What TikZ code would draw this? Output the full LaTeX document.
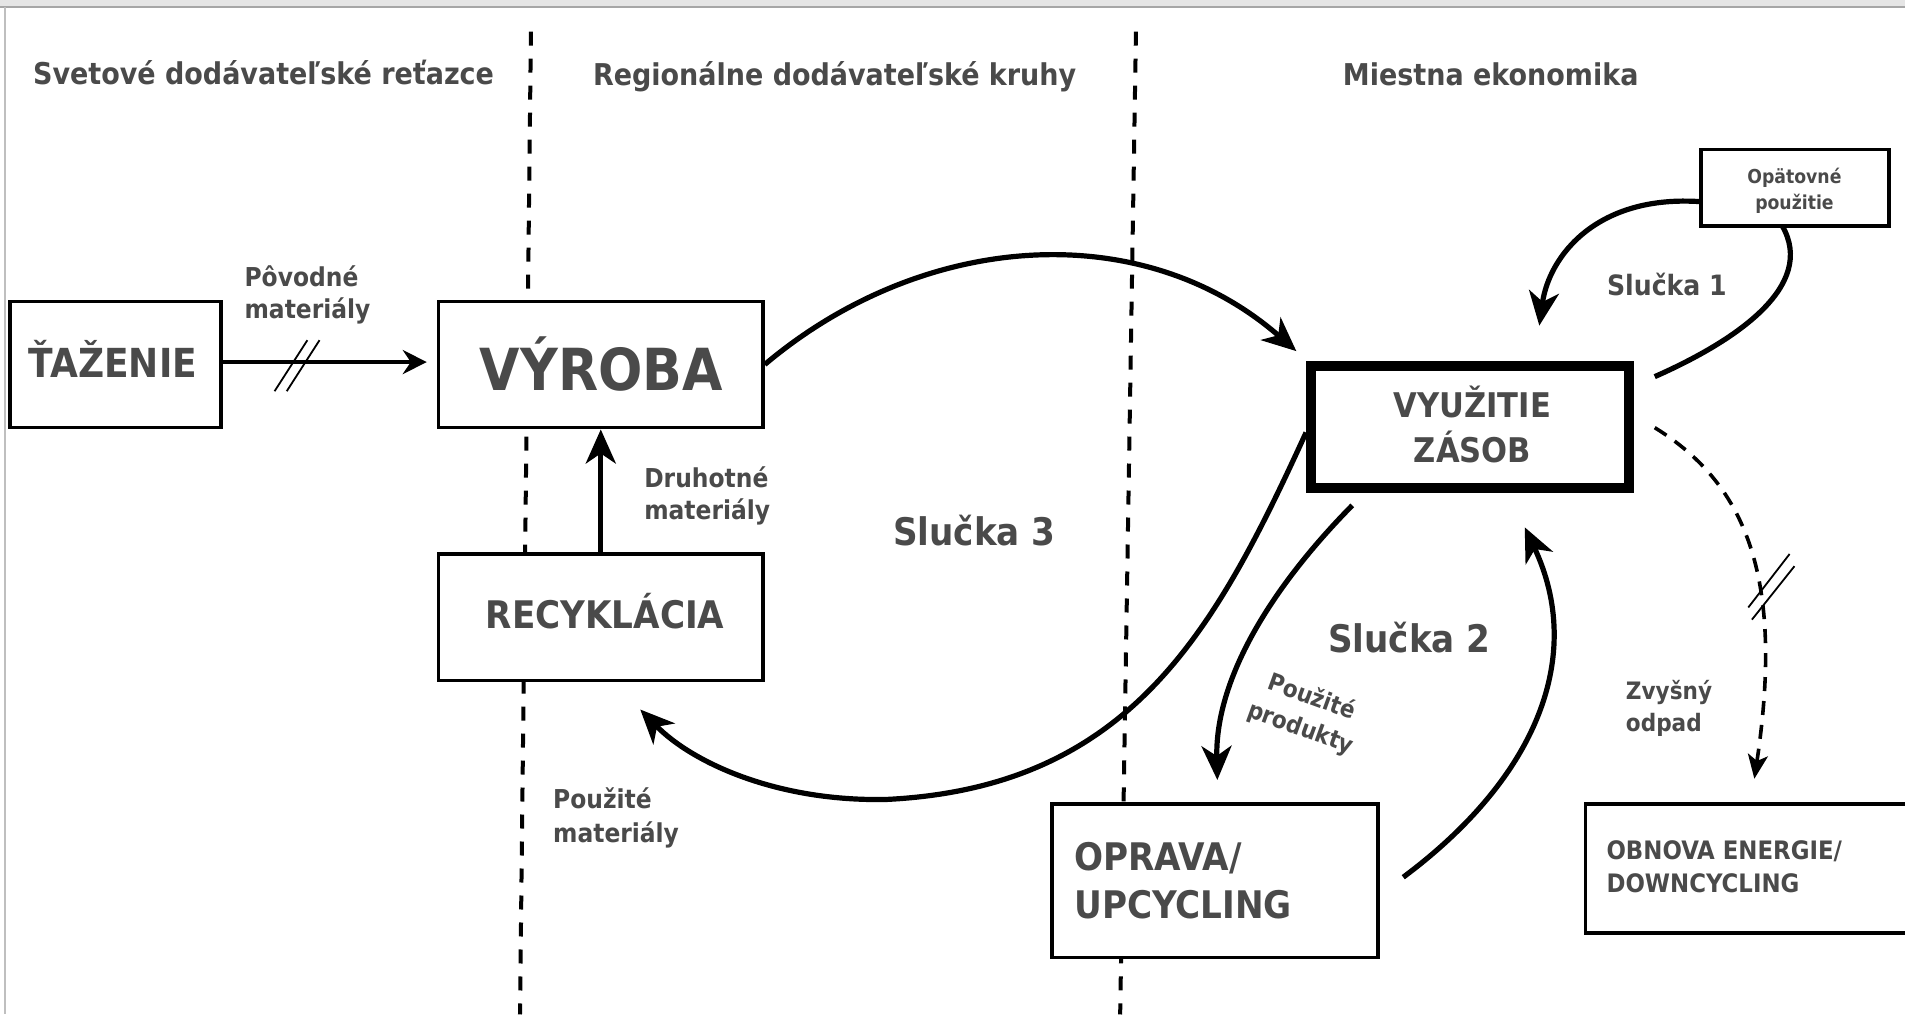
\documentclass[tikz,border=0pt]{standalone}
\usepackage{fontspec}
\setmainfont{DejaVu Sans Condensed}[BoldFont={DejaVu Sans Condensed Bold}]
\usetikzlibrary{arrows.meta}
\definecolor{txt}{HTML}{4A4A4A}
\newcommand\pxu{0.6075pt}
\newcommand\fs[2]{\fontsize{#1}{#2}\selectfont}
\begin{document}
\begin{tikzpicture}[x=0.6075pt,y=-0.6075pt,font=\bfseries,
  box/.style={draw=black,line width=1.8pt,fill=white,inner sep=0pt},
  lbl/.style={text=txt,inner sep=0pt,align=left},
  clbl/.style={text=txt,inner sep=0pt,align=center},
  flow/.style={line width=2.6pt,-{Stealth[length=17pt,width=15pt,inset=5pt]}},
  dflow/.style={line width=1.8pt,dash pattern=on 7pt off 5pt,-{Stealth[length=12pt,width=10pt,inset=3pt]}},
  divider/.style={line width=2pt,dash pattern=on 7pt off 6.5pt},
  slash/.style={line width=0.9pt}]
\useasboundingbox (0,0) rectangle (1568,835);
\fill[white] (0,0) rectangle (1568,835);
\fill[black!10] (0,0) rectangle (1568,6);
\draw[black!35,line width=0.8pt] (0,6) -- (1568,6);
\draw[black!25,line width=0.8pt] (4,6) -- (4,835);

% dividers
\coordinate (d1t) at (437,26); \coordinate (d1b) at (428,835);
\coordinate (d2t) at (935,26); \coordinate (d2b) at (922,835);
\draw[divider] (d1t) -- (d1b);
\draw[divider] (d2t) -- (d2b);

% headers
\node[clbl,font=\bfseries\fs{15}{18}] (h1) at (217,60) {Svetové dodávateľské reťazce};
\node[clbl,font=\bfseries\fs{15}{18}] (h2) at (687,63) {Regionálne dodávateľské kruhy};
\node[clbl,font=\bfseries\fs{15}{18}] (h3) at (1227,61) {Miestna ekonomika};

% boxes
\node[box,minimum width=174*\pxu,minimum height=104*\pxu] (taz) at (95,300) {};
\node[box,minimum width=267*\pxu,minimum height=104*\pxu] (vyr) at (494.5,300) {};
\node[box,minimum width=267*\pxu,minimum height=104*\pxu] (rec) at (494.5,508) {};
\node[box,line width=5pt,minimum width=262*\pxu,minimum height=101*\pxu] (vyu) at (1210,351.5) {};
\node[box,minimum width=155*\pxu,minimum height=63*\pxu] (opa) at (1477.5,154.5) {};
\node[box,minimum width=268*\pxu,minimum height=126*\pxu] (opr) at (1000,725) {};
\node[box,minimum width=290*\pxu,minimum height=106*\pxu] (obn) at (1450,715) {};

% box texts
\node[clbl,font=\bfseries\fs{20}{24}] (tazt) at (93,295) {ŤAŽENIE};
\node[clbl,font=\bfseries\fs{29}{34}] (vyrt) at (495,300) {VÝROBA};
\node[clbl,font=\bfseries\fs{19}{23}] (rect) at (498,503) {RECYKLÁCIA};
\node[clbl,font=\bfseries\fs{17}{22.5}] (vyut) at (1212,349) {VYUŽITIE\\ZÁSOB};
\node[clbl,font=\bfseries\fs{9.6}{13}] (opat) at (1477,157) {Opätovné\\použitie};
\node[lbl,font=\bfseries\fs{19}{24},anchor=west] (oprt) at (884,725) {OPRAVA/\\UPCYCLING};
\node[lbl,font=\bfseries\fs{12.7}{16.5},anchor=west] (obnt) at (1322,713) {OBNOVA ENERGIE/\\DOWNCYCLING};

% labels
\node[lbl,font=\bfseries\fs{13}{16},anchor=west] (pov) at (201,243) {Pôvodné\\materiály};
\node[lbl,font=\bfseries\fs{13}{16},anchor=west] (dru) at (530,408) {Druhotné\\materiály};
\node[lbl,font=\bfseries\fs{13}{17},anchor=west] (pou) at (455,673) {Použité\\materiály};
\node[clbl,font=\bfseries\fs{12}{16.5},rotate=-20] (prod) at (1075,587) {Použité\\produkty};
\node[lbl,font=\bfseries\fs{12}{16},anchor=west] (zvy) at (1338,583) {Zvyšný\\odpad};
\node[clbl,font=\bfseries\fs{19}{23}] (s3) at (802,437) {Slučka 3};
\node[clbl,font=\bfseries\fs{14}{17}] (s1) at (1372,234) {Slučka 1};
\node[clbl,font=\bfseries\fs{19}{23}] (s2) at (1160,525) {Slučka 2};

% straight arrows
\draw[line width=2.2pt,-{Stealth[length=12pt,width=12pt,inset=4pt]},shorten >=5pt] (taz.east |- 0,298) coordinate (tazo) -- (vyr.west |- 0,298) coordinate (vyri);
\draw[slash] (226,322) -- (253,280) (236,322) -- (263,280);
\draw[flow] (rec.north) -- (vyr.south);

% curved flows
\coordinate (c1e) at (1067,289);
\draw[flow] (vyr.east) .. controls (760,190) and (940,178) .. (c1e);

\coordinate (c3s) at (1075,356);
\coordinate (c3m) at (730,658);
\coordinate (c3e) at (527,584);
\draw[flow] (c3s) .. controls (1000,520) and (930,648) .. (c3m) .. controls (640,660) and (570,628) .. (c3e);

\coordinate (s2as) at (1113,416);
\coordinate (s2ae) at (1002,642);
\draw[flow] (s2as) .. controls (1045,485) and (1000,560) .. (s2ae);

\coordinate (s2bs) at (1155,722);
\coordinate (s2be) at (1255,434);
\draw[flow] (s2bs) .. controls (1265,640) and (1305,540) .. (s2be);

\coordinate (s1as) at (1362,310);
\coordinate (s1ae) at (1467,186);
\draw[line width=2.6pt] (s1as) .. controls (1430,280) and (1495,235) .. (s1ae);
\coordinate (s1bs) at (1400,166);
\coordinate (s1be) at (1267,268);
\draw[flow] (s1bs) .. controls (1315,160) and (1275,210) .. (s1be);

\coordinate (wds) at (1362,352);
\coordinate (wde) at (1444,641);
\draw[dflow] (wds) .. controls (1440,400) and (1468,480) .. (wde);
\draw[slash] (1439,500) -- (1473,456) (1442,510) -- (1477,466);
\end{tikzpicture}
\end{document}
